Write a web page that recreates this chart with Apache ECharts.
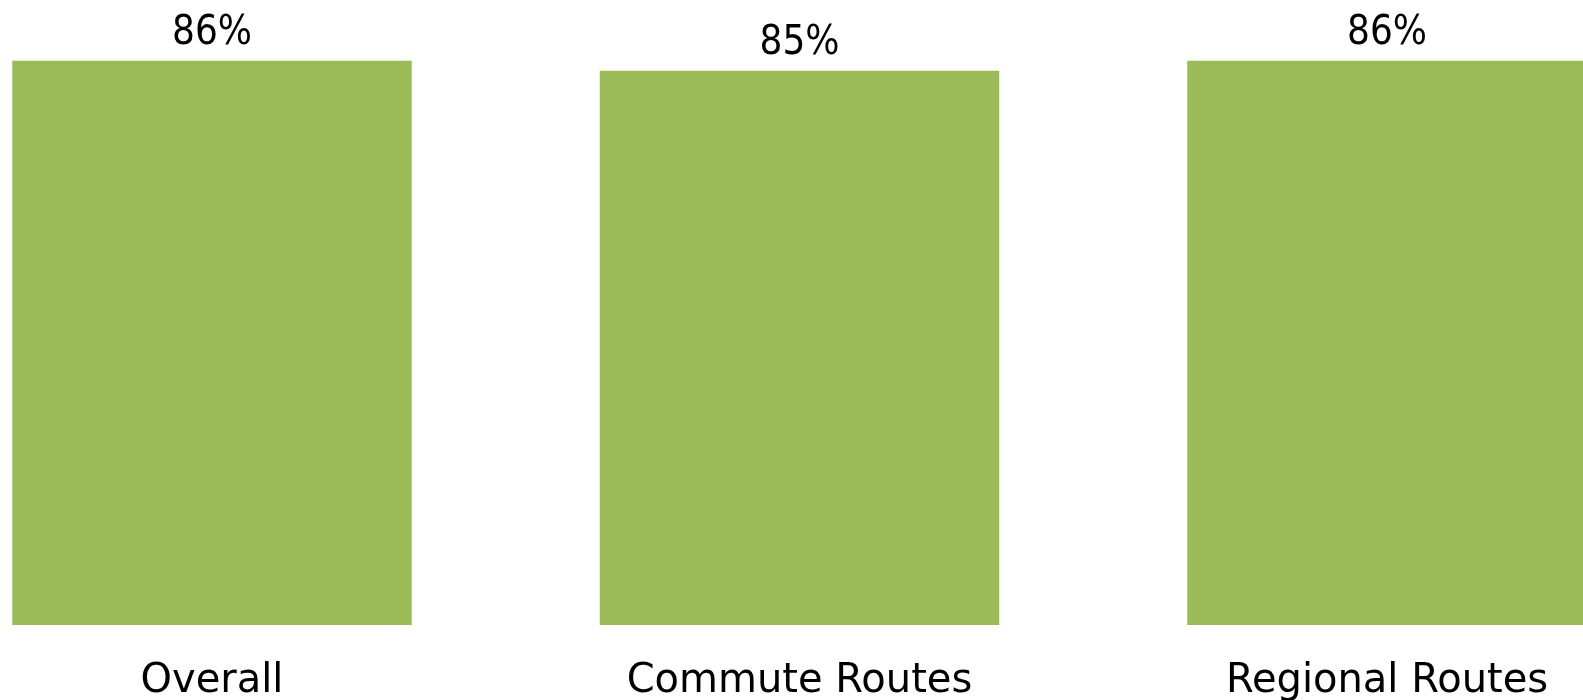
<!DOCTYPE html>
<html>
<head>
<meta charset="utf-8">
<script src="https://cdn.jsdelivr.net/npm/echarts@6/dist/echarts.min.js"></script>
<style>
html,body{margin:0;padding:0;background:#fff;}
#chart{width:1583px;height:700px;}
</style>
</head>
<body>
<div id="chart"></div>
<script>
const categories = ['Overall', 'Commute Routes', 'Regional Routes'];
const values = [86, 84.5, 86];

const chart = echarts.init(document.getElementById('chart'), null, {renderer: 'canvas'});
chart.setOption({
  animation: false,
  backgroundColor: '#ffffff',
  grid: {left: -81.75, right: -97.75, top: -31, bottom: 75, containLabel: false, outerBoundsMode: 'none'},
  xAxis: {
    type: 'category',
    data: categories,
    axisLine: {show: false},
    axisTick: {show: false},
    axisLabel: {
      color: '#000000',
      fontFamily: 'DejaVu Sans',
      fontSize: 40,
      margin: 37,
      interval: 0
    }
  },
  yAxis: {
    type: 'value',
    min: 0,
    max: 100,
    show: false,
    splitLine: {show: false}
  },
  series: [{
    type: 'bar',
    data: values,
    barWidth: '68%',
    itemStyle: {color: '#9BBB59'},
    label: {
      show: true,
      position: 'top',
      distance: 7,
      color: '#000000',
      fontFamily: '"DejaVu Sans Condensed", sans-serif',
      fontSize: 40,
      formatter: p => Math.round(p.value) + '%'
    }
  }]
});
</script>
</body>
</html>
